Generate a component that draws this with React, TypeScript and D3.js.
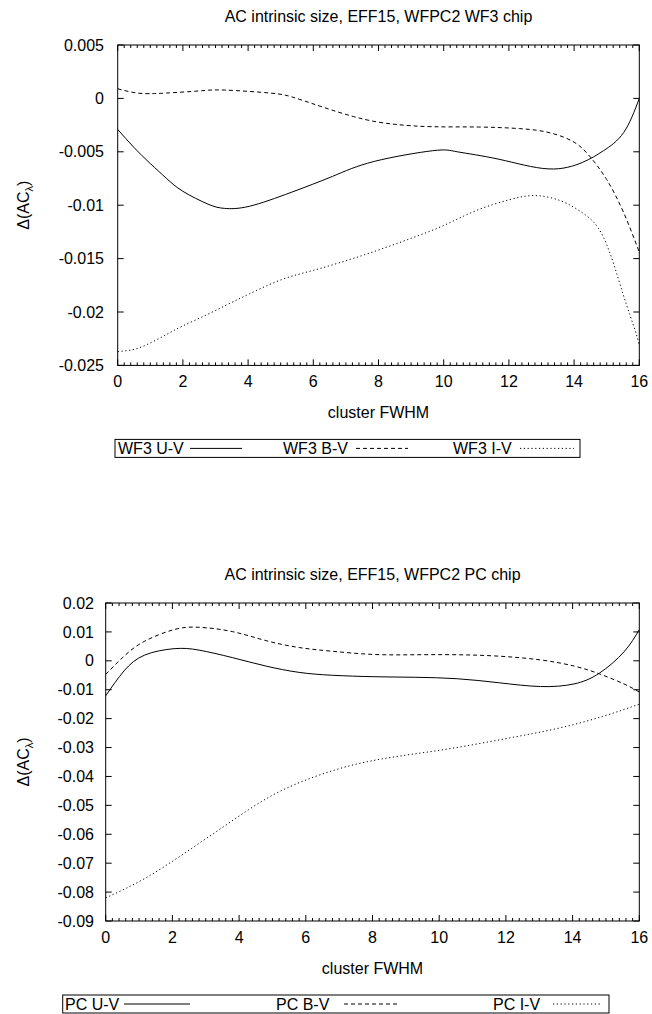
import React from "react";
import * as d3 from "d3";

// ---------- data ----------
const xTickValues = [0, 2, 4, 6, 8, 10, 12, 14, 16];

// WF3 chip
const wf3YTicks = [0.005, 0, -0.005, -0.01, -0.015, -0.02, -0.025];
const wf3UVx = [0, 0.5, 1.0, 1.5, 2.0, 2.77, 3.28, 4.04, 5.32, 6.59, 7.87, 9.66, 10.42, 11.7, 13.2, 14.25, 14.9, 15.52, 16];
const wf3UVy = [-0.0029, -0.0046, -0.0061, -0.0075, -0.0087, -0.0099, -0.0103, -0.0101, -0.0088, -0.0073, -0.0059, -0.0049, -0.0050, -0.0057, -0.0066, -0.0060, -0.0049, -0.0032, 0.0];
const wf3BVx = [0, 0.6, 1.08, 1.49, 2.5, 3.28, 4.68, 5.59, 7.23, 8.51, 9.66, 11.06, 12.33, 13.23, 14.0, 14.5, 15.0, 15.52, 16];
const wf3BVy = [0.0009, 0.0005, 0.00045, 0.0005, 0.0007, 0.00078, 0.0005, -0.0001, -0.0017, -0.00243, -0.00265, -0.00268, -0.00283, -0.0032, -0.0041, -0.0055, -0.0076, -0.0107, -0.0144];
const wf3IVx = [0, 0.5, 1, 1.5, 2, 2.77, 3.5, 4.04, 5, 6, 7, 8, 9, 10, 11, 12, 12.8, 13.6, 14.25, 14.9, 15.5, 15.87, 16];
const wf3IVy = [-0.0237, -0.0235, -0.0229, -0.0221, -0.0213, -0.0202, -0.0191, -0.0183, -0.0170, -0.0161, -0.0152, -0.0142, -0.0131, -0.0119, -0.0105, -0.0095, -0.0091, -0.0096, -0.0107, -0.0130, -0.0183, -0.0217, -0.0232];

// PC chip
const pcYTicks = [0.02, 0.01, 0, -0.01, -0.02, -0.03, -0.04, -0.05, -0.06, -0.07, -0.08, -0.09];
const pcUVx = [0, 0.55, 1.17, 2.05, 2.8, 3.8, 4.8, 5.8, 6.8, 8.04, 9.3, 10.54, 11.8, 13.04, 14.04, 14.8, 15.54, 16];
const pcUVy = [-0.0121, -0.0035, 0.002, 0.0042, 0.0037, 0.0011, -0.0018, -0.0040, -0.005, -0.0055, -0.0057, -0.0062, -0.0076, -0.0089, -0.0080, -0.0043, 0.0031, 0.0108];
const pcBVx = [0, 0.55, 1.17, 2.05, 2.8, 3.8, 4.8, 5.8, 6.8, 8.04, 9.3, 10.54, 11.8, 13.04, 14.04, 14.8, 15.54, 16];
const pcBVy = [-0.0047, 0.0016, 0.0068, 0.0108, 0.0116, 0.0101, 0.0070, 0.0046, 0.0033, 0.0022, 0.0021, 0.0021, 0.0016, 0.0003, -0.0018, -0.0045, -0.0080, -0.0108];
const pcIVx = [0, 1.17, 2.42, 3.67, 4.92, 6.17, 7.42, 8.67, 9.92, 11.17, 12.42, 13.66, 14.91, 16];
const pcIVy = [-0.082, -0.0753, -0.0661, -0.0563, -0.0470, -0.0405, -0.0360, -0.0332, -0.0311, -0.0287, -0.0260, -0.0231, -0.0192, -0.015];

const FONT = "'Liberation Sans', Arial, Helvetica, sans-serif";
const DASH = "4,3";
const DOT = "1.2,2.6";

type Series = { xs: number[]; ys: number[]; dash: string | null; label: string };

type PanelProps = {
  title: string;
  left: number;
  right: number;
  top: number;
  bottom: number;
  yDomain: [number, number];
  yTicks: number[];
  yLabelRight: number;
  series: Series[];
  legend: { boxLeft: number; boxRight: number; textX: number[]; sample: [number, number][] };
};

function Panel(p: PanelProps) {
  const x = d3.scaleLinear().domain([0, 16]).range([p.left, p.right]);
  const y = d3.scaleLinear().domain(p.yDomain).range([p.bottom, p.top]);
  const minor = d3.range(0, 16.0001, 0.2).filter((v) => Math.abs(v / 2 - Math.round(v / 2)) > 1e-6);
  const line = d3
    .line<[number, number]>()
    .x((d) => x(d[0]))
    .y((d) => y(d[1]))
    .curve(d3.curveNatural);
  const fmt = (v: number) => (Math.abs(v) < 1e-12 ? "0" : String(+v.toFixed(4)));
  const cx = (p.left + p.right) / 2;
  const cy = (p.top + p.bottom) / 2;
  const legTop = p.bottom + 74;
  const legMid = p.bottom + 83;
  return (
    <g fontFamily={FONT} fontSize={16} fill="#000">
      <text x={cx} y={p.top - 29} dy="0.35em" textAnchor="middle">{p.title}</text>
      <defs>
        <clipPath id={"clip" + p.top}>
          <rect x={p.left} y={p.top} width={p.right - p.left} height={p.bottom - p.top} />
        </clipPath>
      </defs>
      {xTickValues.map((t) => (
        <g key={"xt" + t}>
          <line x1={x(t)} x2={x(t)} y1={p.bottom} y2={p.bottom - 6} stroke="#000" />
          <line x1={x(t)} x2={x(t)} y1={p.top} y2={p.top + 6} stroke="#000" />
          <text x={x(t)} y={p.bottom + 16} dy="0.35em" textAnchor="middle">{t}</text>
        </g>
      ))}
      {minor.map((t) => (
        <g key={"mx" + t}>
          <line x1={x(t)} x2={x(t)} y1={p.bottom} y2={p.bottom - 3} stroke="#000" />
          <line x1={x(t)} x2={x(t)} y1={p.top} y2={p.top + 3} stroke="#000" />
        </g>
      ))}
      {p.yTicks.map((t) => (
        <g key={"yt" + t}>
          <line x1={p.left} x2={p.left + 6} y1={y(t)} y2={y(t)} stroke="#000" />
          <line x1={p.right} x2={p.right - 6} y1={y(t)} y2={y(t)} stroke="#000" />
          <text x={p.yLabelRight} y={y(t)} dy="0.35em" textAnchor="end">{fmt(t)}</text>
        </g>
      ))}
      <g clipPath={`url(#clip${p.top})`}>
        {p.series.map((s, i) => (
          <path
            key={"s" + i}
            d={line(s.xs.map((v, j) => [v, s.ys[j]] as [number, number])) || ""}
            fill="none"
            stroke="#000"
            strokeWidth={1}
            strokeDasharray={s.dash || undefined}
          />
        ))}
      </g>
      <rect x={p.left} y={p.top} width={p.right - p.left} height={p.bottom - p.top} fill="none" stroke="#000" strokeWidth={1} />
      <text x={cx} y={p.bottom + 47} dy="0.35em" textAnchor="middle">cluster FWHM</text>
      <text transform={`translate(23,${cy}) rotate(-90)`} textAnchor="middle" dy="0.35em">
        Δ(AC<tspan fontSize={11} dy="4">λ</tspan><tspan dy="-4">)</tspan>
      </text>
      <rect x={p.legend.boxLeft} y={legTop} width={p.legend.boxRight - p.legend.boxLeft} height={18} fill="none" stroke="#000" strokeWidth={1} />
      {p.series.map((s, i) => (
        <g key={"lg" + i}>
          <text x={p.legend.textX[i]} y={legMid} dy="0.35em">{s.label}</text>
          <line
            x1={p.legend.sample[i][0]}
            x2={p.legend.sample[i][1]}
            y1={legMid}
            y2={legMid}
            stroke="#000"
            strokeDasharray={s.dash || undefined}
          />
        </g>
      ))}
    </g>
  );
}

export default function App() {
  return (
    <svg width={652} height={1014} style={{ position: "absolute", left: 0, top: 0, background: "#fff" }}>
      <rect x={0} y={0} width={652} height={1014} fill="#fff" />
      <Panel
        title="AC intrinsic size, EFF15, WFPC2 WF3 chip"
        left={117.7}
        right={639.3}
        top={45}
        bottom={365.4}
        yDomain={[-0.025, 0.005]}
        yTicks={wf3YTicks}
        yLabelRight={104}
        series={[
          { xs: wf3UVx, ys: wf3UVy, dash: null, label: "WF3 U-V" },
          { xs: wf3BVx, ys: wf3BVy, dash: DASH, label: "WF3 B-V" },
          { xs: wf3IVx, ys: wf3IVy, dash: DOT, label: "WF3 I-V" },
        ]}
        legend={{
          boxLeft: 115,
          boxRight: 580,
          textX: [118, 283, 453],
          sample: [[190, 242], [356, 408], [520, 574]],
        }}
      />
      <Panel
        title="AC intrinsic size, EFF15, WFPC2 PC chip"
        left={105.7}
        right={639.3}
        top={603}
        bottom={921}
        yDomain={[-0.09, 0.02]}
        yTicks={pcYTicks}
        yLabelRight={94}
        series={[
          { xs: pcUVx, ys: pcUVy, dash: null, label: "PC U-V" },
          { xs: pcBVx, ys: pcBVy, dash: DASH, label: "PC B-V" },
          { xs: pcIVx, ys: pcIVy, dash: DOT, label: "PC I-V" },
        ]}
        legend={{
          boxLeft: 62.7,
          boxRight: 609,
          textX: [65, 276, 493],
          sample: [[124, 190], [344, 400], [553, 602]],
        }}
      />
    </svg>
  );
}
